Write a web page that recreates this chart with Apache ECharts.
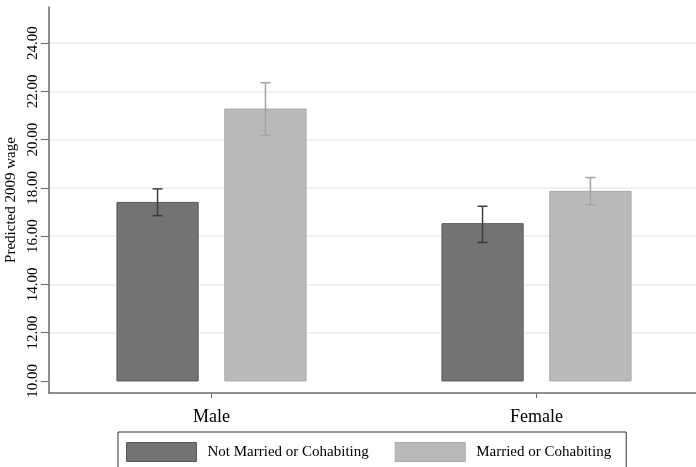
<!DOCTYPE html>
<html>
<head>
<meta charset="utf-8">
<script src="https://cdn.jsdelivr.net/npm/echarts@6/dist/echarts.min.js"></script>
<style>
  html, body { margin: 0; padding: 0; background: #fff; }
  #chart { width: 696px; height: 467px; }
</style>
</head>
<body>
<div id="chart"></div>
<script>
// Predicted 2009 wage by sex and partnership status, with confidence intervals
const categories = ['Male', 'Female'];
const seriesNames = ['Not Married or Cohabiting', 'Married or Cohabiting'];

const notMarried = [17.40, 16.52];
const notMarriedLow = [16.85, 15.74];
const notMarriedHigh = [17.96, 17.24];

const married = [21.27, 17.86];
const marriedLow = [20.18, 17.31];
const marriedHigh = [22.36, 18.43];

const yTicks = [10, 12, 14, 16, 18, 20, 22, 24];
const barBase = 10;

const FONT = '"Liberation Serif", "Times New Roman", serif';

function rows(vals, lows, highs) {
  return vals.map((v, i) => [i, v, lows[i], highs[i]]);
}

// Bar plus error whisker, placed inside the category band
function makeRender(offsetFrac, fill, stroke, whisker) {
  return function (params, api) {
    const cat = api.value(0);
    const band = api.size([1, 0])[0];
    const barW = band * 0.25;
    const top = api.coord([cat, api.value(1)]);
    const base = api.coord([cat, barBase]);
    const lo = api.coord([cat, api.value(2)]);
    const hi = api.coord([cat, api.value(3)]);
    const cx = top[0] + band * offsetFrac;
    const cap = 5;
    return {
      type: 'group',
      children: [
        {
          type: 'rect',
          shape: { x: cx - barW / 2, y: top[1], width: barW, height: base[1] - top[1] },
          style: { fill: fill, stroke: stroke, lineWidth: 1 }
        },
        {
          type: 'line',
          shape: { x1: cx, y1: hi[1], x2: cx, y2: lo[1] },
          style: { stroke: whisker, lineWidth: 1.5 }
        },
        {
          type: 'line',
          shape: { x1: cx - cap, y1: hi[1], x2: cx + cap, y2: hi[1] },
          style: { stroke: whisker, lineWidth: 1.5 }
        },
        {
          type: 'line',
          shape: { x1: cx - cap, y1: lo[1], x2: cx + cap, y2: lo[1] },
          style: { stroke: whisker, lineWidth: 1.5 }
        }
      ]
    };
  };
}

const chart = echarts.init(document.getElementById('chart'), null, { renderer: 'canvas' });

chart.setOption({
  animation: false,
  backgroundColor: '#ffffff',
  grid: { left: 49, right: -3, top: 7, bottom: 74, containLabel: false, outerBoundsMode: 'none' },
  legend: {
    left: 118,
    top: 432,
    orient: 'horizontal',
    icon: 'rect',
    itemWidth: 70,
    itemHeight: 19,
    itemGap: 26,
    padding: [10, 15, 30, 8],
    borderColor: '#333333',
    borderWidth: 1,
    backgroundColor: '#ffffff',
    textStyle: { fontFamily: FONT, fontSize: 15, color: '#000', padding: [0, 0, 0, 6] },
    data: [
      { name: seriesNames[0], itemStyle: { color: '#737373', borderColor: '#5a5a5a', borderWidth: 1 } },
      { name: seriesNames[1], itemStyle: { color: '#bababa', borderColor: '#a8a8a8', borderWidth: 1 } }
    ]
  },
  xAxis: {
    type: 'category',
    data: categories,
    boundaryGap: true,
    axisLine: { show: true, lineStyle: { color: '#6b6b6b', width: 1.5 } },
    axisTick: { show: true, alignWithLabel: true, length: 5, lineStyle: { color: '#6b6b6b', width: 1 } },
    axisLabel: { fontFamily: FONT, fontSize: 18, color: '#000', margin: 15 },
    splitLine: { show: false }
  },
  yAxis: {
    type: 'value',
    min: 9.5,
    max: 25.5,
    name: 'Predicted 2009 wage',
    nameLocation: 'middle',
    nameRotate: 90,
    nameGap: 19,
    nameTextStyle: { fontFamily: FONT, fontSize: 15, color: '#000' },
    axisLine: { show: true, lineStyle: { color: '#6b6b6b', width: 1.5 } },
    axisTick: { show: true, length: 8, customValues: yTicks, lineStyle: { color: '#6b6b6b', width: 1 } },
    axisLabel: {
      customValues: yTicks,
      rotate: 90,
      margin: 8,
      fontFamily: FONT,
      fontSize: 15,
      color: '#000',
      formatter: v => v.toFixed(2)
    },
    splitLine: { show: false }
  },
  series: [
    {
      name: 'grid',
      type: 'line',
      data: [],
      silent: true,
      z: 0,
      markLine: {
        silent: true,
        symbol: ['none', 'none'],
        label: { show: false },
        z: 0,
        lineStyle: { color: '#e6eff2', width: 1.5, type: 'solid' },
        data: yTicks.filter(t => t > barBase).map(t => ({ yAxis: t }))
      }
    },
    {
      name: seriesNames[0],
      type: 'custom',
      z: 2,
      itemStyle: { color: '#737373' },
      renderItem: makeRender(-0.166, '#737373', '#5a5a5a', '#3c3c3c'),
      encode: { x: 0, y: [1, 2, 3] },
      data: rows(notMarried, notMarriedLow, notMarriedHigh)
    },
    {
      name: seriesNames[1],
      type: 'custom',
      z: 2,
      itemStyle: { color: '#bababa' },
      renderItem: makeRender(0.166, '#bababa', '#a8a8a8', '#a3a3a3'),
      encode: { x: 0, y: [1, 2, 3] },
      data: rows(married, marriedLow, marriedHigh)
    }
  ]
});
</script>
</body>
</html>
